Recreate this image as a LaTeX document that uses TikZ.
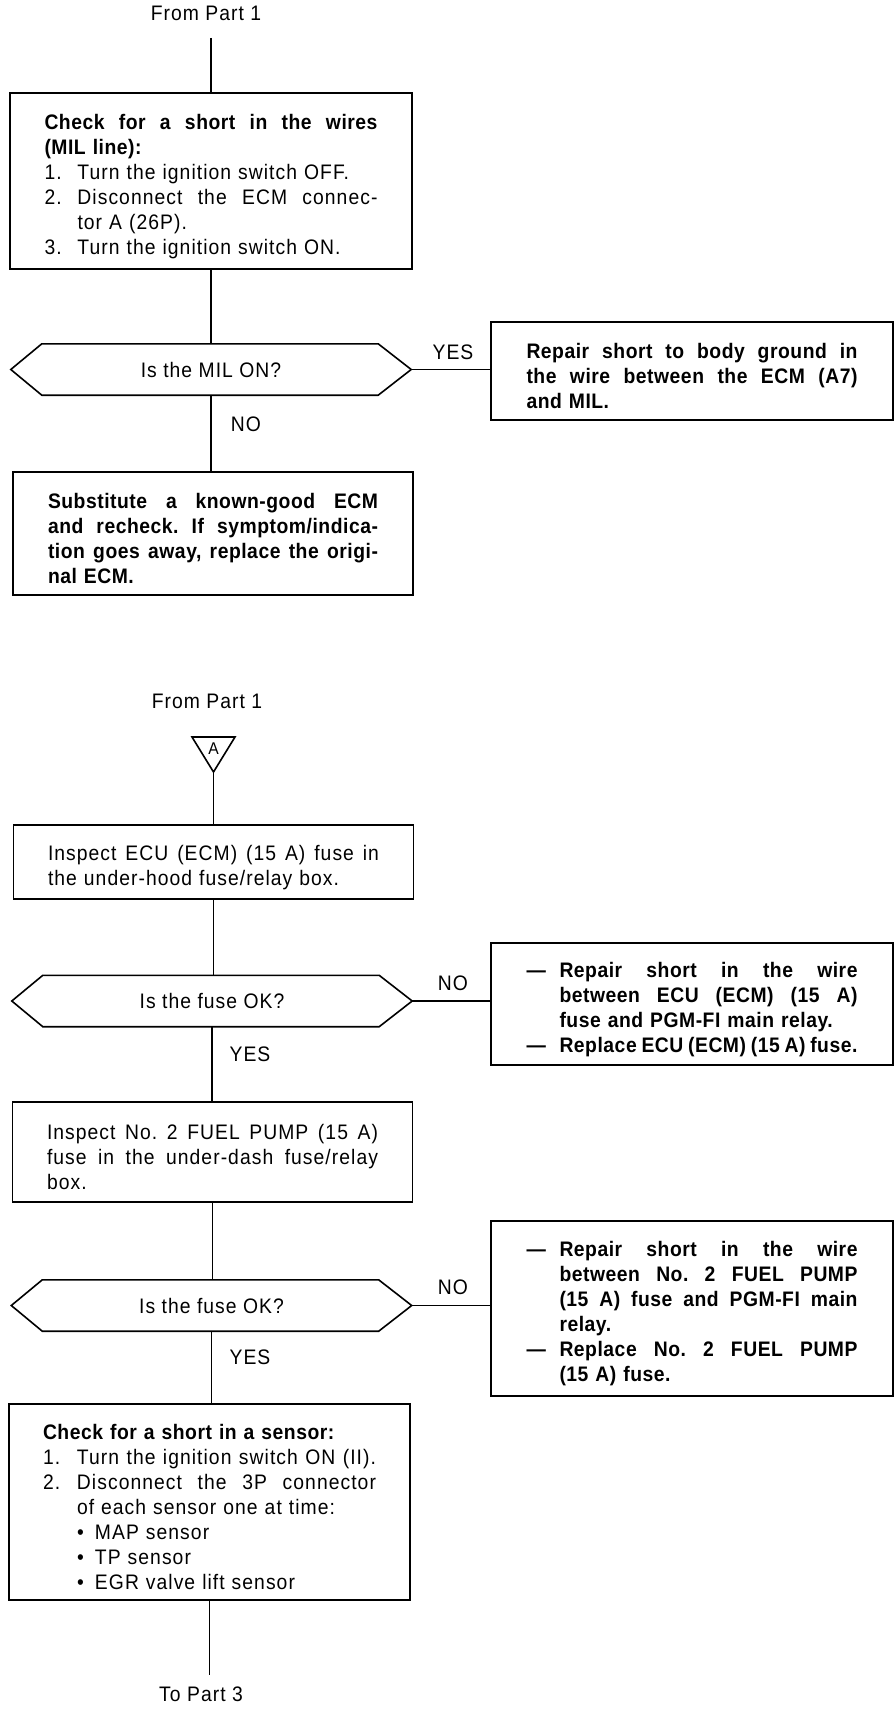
\documentclass[tikz,border=0pt]{standalone}
\usepackage{fontspec}
\setmainfont{Liberation Sans}[FakeStretch=0.92,LetterSpace=5,BoldFeatures={LetterSpace=2.5}]
\newlength\tw
\newcommand\sps{\spaceskip=\fontdimen2\font plus 1fil minus 0.3\fontdimen2\font\relax}
\newcommand\jl[1]{\makebox[\tw][s]{\sps#1}}
\newcommand\jli[2]{\makebox[\dimexpr\tw-#1\relax][s]{\sps#2}}
\newcommand\nm[2]{\makebox[#1][l]{#2}}
\newcommand\tb{\rule{0pt}{26pt}}
\newcommand\hexpath[1]{\draw[outl] (#1.west) -- ([xshift=31pt]#1.north west) -- ([xshift=-33pt]#1.north east) -- (#1.east) -- ([xshift=-33pt]#1.south east) -- ([xshift=31pt]#1.south west) -- cycle;}
\frenchspacing
\begin{document}
\begin{tikzpicture}[x=1pt,y=-1pt,
  every node/.style={font=\fontsize{21}{25}\selectfont, inner sep=0pt},
  outl/.style={line width=1.6pt},
  box/.style={draw, line width=1.6pt, align=left},
  tw/.style={text width=#1, execute at begin node={\setlength{\tw}{#1}\frenchspacing}},
  hex/.style={minimum width=400pt, minimum height=51pt, align=center},
  conn/.style={line width=1.1pt},
  lbl/.style={anchor=center}]
\fill[white] (0,0) rectangle (896,1712);
\useasboundingbox (0,0) rectangle (896,1712);

% ---------- first chart ----------
\node[lbl] (fp1) at (206,13) {From Part 1};
\coordinate (ctop) at (211,38);

\node[box, minimum width=402pt, minimum height=176pt, tw=333pt] (b1) at (211,181) {%
\tb\textbf{\jl{Check for a short in the wires}}\\
\textbf{\mbox{(MIL line):}}\\
\nm{33pt}{1.}\mbox{Turn the ignition switch OFF.}\\
\nm{33pt}{2.}\jli{33pt}{Disconnect the ECM connec-}\\
\hspace*{33pt}\mbox{tor A (26P).}\\
\nm{33pt}{3.}\mbox{Turn the ignition switch ON.}};

\node[hex] (h1) at (211,369.5) {Is the MIL ON?};
\hexpath{h1}

\node[box, minimum width=402pt, minimum height=98pt, tw=331pt] (r1) at (692,371) {%
\tb\textbf{\jl{Repair short to body ground in}}\\
\textbf{\jl{the wire between the ECM (A7)}}\\
\textbf{\mbox{and MIL.}}};

\node[lbl] (yes1) at (453,352) {YES};
\node[lbl] (no1) at (246,424) {NO};

\node[box, minimum width=400pt, minimum height=123pt, tw=330pt] (b2) at (213,533.5) {%
\tb\textbf{\jl{Substitute a known-good ECM}}\\
\textbf{\jl{and recheck. If symptom/indica-}}\\
\textbf{\jl{tion goes away, replace the origi-}}\\
\textbf{\mbox{nal ECM.}}};

\draw[conn] (ctop) -- (b1.north);
\draw[conn] (b1.south) -- (h1.north);
\draw[conn] (h1.east) -- (h1.east -| r1.west);
\draw[conn] (h1.south) -- (h1.south |- b2.north);

% ---------- second chart ----------
\node[lbl] (fp2) at (207,701) {From Part 1};
\coordinate (tapex) at (213.5,772);
\draw[outl] (192,737) -- (235,737) -- (tapex) -- cycle;
\node[font=\fontsize{17}{17}\selectfont] (tA) at (213.5,749) {A};

\node[box, minimum width=400pt, minimum height=74pt, tw=331pt] (b3) at (213.5,862) {%
\tb\jl{Inspect ECU (ECM) (15 A) fuse in}\\
\mbox{the under-hood fuse/relay box.}};

\node[hex] (h2) at (212,1001) {Is the fuse OK?};
\hexpath{h2}

\node[lbl] (no2) at (453,983) {NO};
\node[lbl] (yes2) at (250,1054) {YES};

\node[box, minimum width=402pt, minimum height=122pt, tw=331pt] (r2) at (692,1004) {%
\tb\textbf{\nm{33pt}{—}\jli{33pt}{Repair short in the wire}}\\
\textbf{\hspace*{33pt}\jli{33pt}{between ECU (ECM) (15 A)}}\\
\textbf{\hspace*{33pt}\mbox{fuse and PGM-FI main relay.}}\\
\textbf{\nm{33pt}{—}\jli{33pt}{Replace ECU (ECM) (15 A) fuse.}}};

\node[box, minimum width=400pt, minimum height=100pt, tw=331pt] (b4) at (212.5,1152) {%
\tb\jl{Inspect No. 2 FUEL PUMP (15 A)}\\
\jl{fuse in the under-dash fuse/relay}\\
\mbox{box.}};

\node[hex] (h3) at (211.5,1305.5) {Is the fuse OK?};
\hexpath{h3}

\node[lbl] (no3) at (453,1287) {NO};
\node[lbl] (yes3) at (250,1357) {YES};

\node[box, minimum width=402pt, minimum height=175pt, tw=331pt] (r3) at (692,1308.5) {%
\tb\textbf{\nm{33pt}{—}\jli{33pt}{Repair short in the wire}}\\
\textbf{\hspace*{33pt}\jli{33pt}{between No. 2 FUEL PUMP}}\\
\textbf{\hspace*{33pt}\jli{33pt}{(15 A) fuse and PGM-FI main}}\\
\textbf{\hspace*{33pt}\mbox{relay.}}\\
\textbf{\nm{33pt}{—}\jli{33pt}{Replace No. 2 FUEL PUMP}}\\
\textbf{\hspace*{33pt}\mbox{(15 A) fuse.}}};

\node[box, minimum width=401pt, minimum height=196pt, tw=333pt] (b5) at (209.5,1502) {%
\tb\textbf{\mbox{Check for a short in a sensor:}}\\
\nm{34pt}{1.}\jli{34pt}{Turn the ignition switch ON (II).}\\
\nm{34pt}{2.}\jli{34pt}{Disconnect the 3P connector}\\
\hspace*{34pt}\mbox{of each sensor one at time:}\\
\hspace*{34pt}\nm{18pt}{•}\mbox{MAP sensor}\\
\hspace*{34pt}\nm{18pt}{•}\mbox{TP sensor}\\
\hspace*{34pt}\nm{18pt}{•}\mbox{EGR valve lift sensor}};

\coordinate (cbot) at (209.5,1675);
\node[lbl] (tp3) at (201,1694) {To Part 3};

\draw[conn] (tapex) -- (tapex |- b3.north);
\draw[conn] (b3.south) -- (b3.south |- h2.north);
\draw[conn] (h2.east) -- (h2.east -| r2.west);
\draw[conn] (h2.south) -- (h2.south |- b4.north);
\draw[conn] (b4.south) -- (b4.south |- h3.north);
\draw[conn] (h3.east) -- (h3.east -| r3.west);
\draw[conn] (h3.south) -- (h3.south |- b5.north);
\draw[conn] (b5.south) -- (cbot);
\end{tikzpicture}
\end{document}
